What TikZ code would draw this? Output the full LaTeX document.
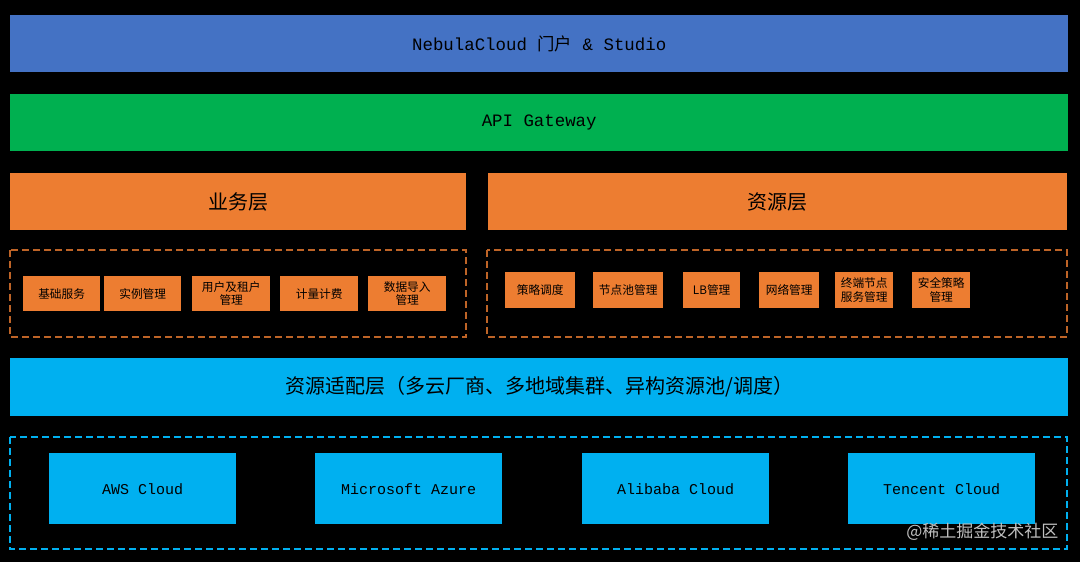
\documentclass[tikz,border=0pt]{standalone}
\usepackage{fontspec}
\setmainfont{Liberation Mono}
\newfontfamily\cjk{Noto Sans CJK SC}
\definecolor{cblue}{HTML}{4472C4}
\definecolor{cgreen}{HTML}{00B050}
\definecolor{corange}{HTML}{ED7D31}
\definecolor{ccyan}{HTML}{00B0F0}
\tikzset{
 bar/.style={anchor=north west,inner sep=0pt,text=black,font=\fontsize{17.4}{19}\selectfont},
 sm/.style={fill=corange,anchor=north west,inner sep=0pt,align=center,text=black,font=\cjk\fontsize{11.7}{13.5}\selectfont},
 cl/.style={fill=ccyan,anchor=north west,inner sep=0pt,text=black,minimum width=187pt,minimum height=71pt,font=\fontsize{15}{17}\selectfont},
 dbox/.style={draw,dashed,line width=1.4pt,dash pattern=on 7pt off 4pt}
}
\begin{document}
\begin{tikzpicture}[x=1pt,y=-1pt]
\fill[black] (0,0) rectangle (1080,562);
\useasboundingbox (0,0) rectangle (1080,562);
\node[bar,fill=cblue,minimum width=1058pt,minimum height=57pt] (portal) at (10,15) {NebulaCloud {\cjk 门户} \& Studio};
\node[bar,fill=cgreen,minimum width=1058pt,minimum height=57pt] (api) at (10,94) {API Gateway};
\node[bar,fill=corange,minimum width=456pt,minimum height=57pt,font=\cjk\fontsize{20}{22}\selectfont] (biz) at (10,173) {业务层};
\node[bar,fill=corange,minimum width=579pt,minimum height=57pt,font=\cjk\fontsize{20}{22}\selectfont] (res) at (488,173) {资源层};
\draw[dbox,draw=corange!80!black] (10,250) rectangle (466,337);
\draw[dbox,draw=corange!80!black] (487,250) rectangle (1067,337);
\node[sm,minimum width=77pt,minimum height=35pt] (b1) at (23,276) {基础服务};
\node[sm,minimum width=77pt,minimum height=35pt] (b2) at (104,276) {实例管理};
\node[sm,minimum width=78pt,minimum height=35pt] (b3) at (192,276) {用户及租户\\管理};
\node[sm,minimum width=78pt,minimum height=35pt] (b4) at (280,276) {计量计费};
\node[sm,minimum width=78pt,minimum height=35pt] (b5) at (368,276) {数据导入\\管理};
\node[sm,minimum width=70pt,minimum height=36pt] (r1) at (505,272) {策略调度};
\node[sm,minimum width=70pt,minimum height=36pt] (r2) at (593,272) {节点池管理};
\node[sm,minimum width=57pt,minimum height=36pt] (r3) at (683,272) {LB管理};
\node[sm,minimum width=60pt,minimum height=36pt] (r4) at (759,272) {网络管理};
\node[sm,minimum width=58pt,minimum height=36pt] (r5) at (835,272) {终端节点\\服务管理};
\node[sm,minimum width=58pt,minimum height=36pt] (r6) at (912,272) {安全策略\\管理};
\node[bar,fill=ccyan,minimum width=1058pt,minimum height=58pt,font=\cjk\fontsize{20}{22}\selectfont] (adapt) at (10,358) {资源适配层（多云厂商、多地域集群、异构资源池/调度）};
\draw[dbox,draw=ccyan] (10,437) rectangle (1067,549);
\node[cl] (aws) at (49,453) {AWS Cloud};
\node[cl] (az) at (315,453) {Microsoft Azure};
\node[cl] (ali) at (582,453) {Alibaba Cloud};
\node[cl] (ten) at (848,453) {Tencent Cloud};
\node[anchor=east,text=white!75!black,font=\cjk\fontsize{17}{19}\selectfont] (wm) at (1062,532) {@稀土掘金技术社区};
\end{tikzpicture}
\end{document}
